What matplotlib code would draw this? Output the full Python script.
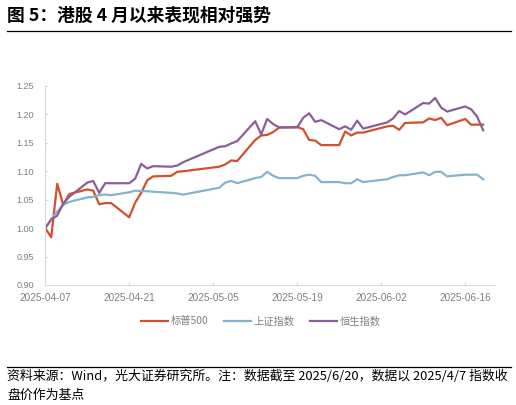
import matplotlib
matplotlib.use("Agg")
import matplotlib.pyplot as plt
import matplotlib.dates as mdates
import pandas as pd

# trading days (SSE calendar), 2025-04-07 .. 2025-06-19
dates = [
    "2025-04-07", "2025-04-08", "2025-04-09", "2025-04-10", "2025-04-11",
    "2025-04-14", "2025-04-15", "2025-04-16", "2025-04-17", "2025-04-18",
    "2025-04-21", "2025-04-22", "2025-04-23", "2025-04-24", "2025-04-25",
    "2025-04-28", "2025-04-29", "2025-04-30",
    "2025-05-06", "2025-05-07", "2025-05-08", "2025-05-09",
    "2025-05-12", "2025-05-13", "2025-05-14", "2025-05-15", "2025-05-16",
    "2025-05-19", "2025-05-20", "2025-05-21", "2025-05-22", "2025-05-23",
    "2025-05-26", "2025-05-27", "2025-05-28", "2025-05-29", "2025-05-30",
    "2025-06-03", "2025-06-04", "2025-06-05", "2025-06-06",
    "2025-06-09", "2025-06-10", "2025-06-11", "2025-06-12", "2025-06-13",
    "2025-06-16", "2025-06-17", "2025-06-18", "2025-06-19",
]

sp500 = [
    1.000, 0.984, 1.078, 1.041, 1.060,
    1.068, 1.066, 1.042, 1.044, 1.044,
    1.019, 1.045, 1.062, 1.084, 1.091,
    1.092, 1.099, 1.100,
    1.108, 1.112, 1.119, 1.118,
    1.155, 1.163, 1.164, 1.169, 1.177,
    1.178, 1.174, 1.155, 1.154, 1.146,
    1.146, 1.170, 1.163, 1.168, 1.168,
    1.179, 1.180, 1.173, 1.185,
    1.186, 1.193, 1.190, 1.194, 1.181,
    1.192, 1.182, 1.182, 1.182,
]

sse = [
    1.000, 1.016, 1.029, 1.041, 1.046,
    1.054, 1.055, 1.058, 1.059, 1.058,
    1.063, 1.066, 1.065, 1.065, 1.064,
    1.062, 1.061, 1.059,
    1.071, 1.080, 1.083, 1.079,
    1.088, 1.090, 1.099, 1.092, 1.088,
    1.088, 1.092, 1.094, 1.092, 1.081,
    1.081, 1.079, 1.079, 1.086, 1.081,
    1.086, 1.090, 1.093, 1.093,
    1.098, 1.093, 1.099, 1.099, 1.091,
    1.094, 1.094, 1.094, 1.086,
]

hsi = [
    1.000, 1.015, 1.022, 1.043, 1.055,
    1.080, 1.083, 1.062, 1.079, 1.079,
    1.079, 1.087, 1.113, 1.105, 1.109,
    1.108, 1.110, 1.116,
    1.143, 1.144, 1.149, 1.153,
    1.188, 1.165, 1.192, 1.183, 1.177,
    1.177, 1.194, 1.202, 1.187, 1.190,
    1.174, 1.179, 1.173, 1.189, 1.175,
    1.186, 1.193, 1.206, 1.200,
    1.220, 1.219, 1.229, 1.212, 1.205,
    1.214, 1.209, 1.196, 1.172,
]

series_names = ["标普500", "上证指数", "恒生指数"]
colors = ["#D2502D", "#86B3CB", "#8C5E98"]

cjk = ["Noto Sans CJK SC", "DejaVu Sans"]
plt.rcParams["font.family"] = ["Liberation Sans", "Noto Sans CJK SC", "DejaVu Sans"]

x = pd.to_datetime(dates)

fig = plt.figure(figsize=(5.16, 4.05), dpi=100)
ax = fig.add_axes([0.0876, 0.2963, 0.8720, 0.4914])

for vals, name, c in zip([sp500, sse, hsi], series_names, colors):
    ax.plot(x, vals, color=c, lw=1.6, label=name)

ax.set_ylim(0.90, 1.25)
ax.set_yticks([0.90, 0.95, 1.00, 1.05, 1.10, 1.15, 1.20, 1.25])
ax.yaxis.set_major_formatter(matplotlib.ticker.FormatStrFormatter("%.2f"))

ticks = pd.date_range("2025-04-07", periods=6, freq="14D")
ax.set_xticks(ticks)
ax.xaxis.set_major_formatter(mdates.DateFormatter("%Y-%m-%d"))
ax.set_xlim(pd.Timestamp("2025-04-07"), pd.Timestamp("2025-06-21 00:00"))

for s in ["top", "right"]:
    ax.spines[s].set_visible(False)
for s in ["left", "bottom"]:
    ax.spines[s].set_color("#D9D9D9")
    ax.spines[s].set_linewidth(0.8)

ax.tick_params(axis="both", direction="in", length=2.5, width=0.8, color="#D9D9D9",
               labelcolor="#7F7F7F")
ax.tick_params(axis="y", labelsize=6.5, pad=8)
ax.tick_params(axis="x", labelsize=7.2, pad=6)

fig.legend(loc="center", bbox_to_anchor=(0.506, 0.207), ncol=3, frameon=False,
           prop={"family": cjk, "size": 7.4}, labelcolor="#7F7F7F",
           handlelength=2.6, handletextpad=0.3, columnspacing=1.5)

# title and separator lines
fig.text(0.014, 0.962, "图 5：港股 4 月以来表现相对强势", family=cjk, fontsize=12.8,
         fontweight="bold", va="center", ha="left", color="#000000")
fig.add_artist(plt.Line2D([0.014, 0.990], [0.9235, 0.9235], color="black", lw=0.9))
fig.add_artist(plt.Line2D([0.014, 0.990], [0.0946, 0.0946], color="black", lw=0.9))

fig.text(0.014, 0.071, "资料来源：Wind，光大证券研究所。注：数据截至 2025/6/20，数据以 2025/4/7 指数收",
         family=cjk, fontsize=9.3, va="center", ha="left", color="#000000")
fig.text(0.014, 0.024, "盘价作为基点", family=cjk, fontsize=9.3, va="center", ha="left",
         color="#000000")

fig.savefig("out.png", dpi=100)
